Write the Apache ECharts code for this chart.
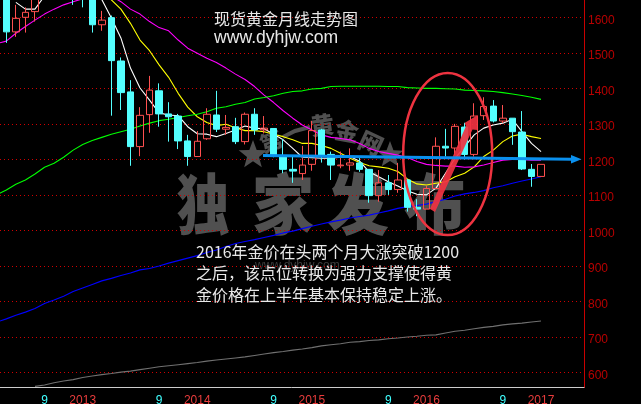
<!DOCTYPE html>
<html><head><meta charset="utf-8">
<style>html,body{margin:0;padding:0;background:#000}#c{width:641px;height:404px}</style>
<script src="https://cdn.jsdelivr.net/npm/echarts@6/dist/echarts.min.js"></script>
</head><body><div id="c"></div>
<script>
const months=['2012-04','2012-05','2012-06','2012-07','2012-08','2012-09','2012-10','2012-11','2012-12','2013-01','2013-02','2013-03','2013-04','2013-05','2013-06','2013-07','2013-08','2013-09','2013-10','2013-11','2013-12','2014-01','2014-02','2014-03','2014-04','2014-05','2014-06','2014-07','2014-08','2014-09','2014-10','2014-11','2014-12','2015-01','2015-02','2015-03','2015-04','2015-05','2015-06','2015-07','2015-08','2015-09','2015-10','2015-11','2015-12','2016-01','2016-02','2016-03','2016-04','2016-05','2016-06','2016-07','2016-08','2016-09','2016-10','2016-11','2016-12','2017-01','2017-02','2017-03','2017-04','2017-05'];
const openP=[1668,1664,1559,1600,1616,1690,1776,1720,1712,1675,1664,1579,1599,1477,1390,1236,1326,1393,1328,1322,1252,1208,1258,1325,1285,1292,1250,1327,1283,1287,1210,1172,1160,1186,1283,1214,1182,1184,1190,1172,1098,1134,1115,1142,1065,1060,1118,1237,1232,1291,1214,1323,1350,1308,1316,1277,1172,1152];
const closeP=[1664,1559,1597,1614,1690,1776,1720,1712,1675,1663,1579,1592,1478,1388,1236,1324,1395,1328,1320,1252,1208,1251,1327,1285,1290,1250,1327,1283,1288,1208,1172,1167,1184,1281,1212,1184,1184,1190,1172,1098,1134,1115,1142,1065,1060,1118,1237,1232,1293,1214,1322,1349,1308,1316,1278,1173,1152,1186];
const lowP=[1640,1528,1545,1557,1588,1660,1700,1672,1635,1628,1557,1562,1323,1339,1182,1209,1275,1292,1250,1229,1182,1207,1255,1277,1269,1243,1242,1269,1273,1206,1161,1134,1142,1168,1191,1142,1175,1168,1165,1078,1081,1100,1106,1053,1040,1060,1118,1208,1212,1200,1208,1311,1304,1302,1241,1170,1123,1152];
const highP=[1690,1666,1635,1628,1693,1790,1795,1755,1725,1695,1680,1618,1605,1487,1423,1347,1435,1414,1361,1328,1269,1280,1344,1393,1325,1317,1332,1344,1322,1288,1257,1208,1238,1308,1286,1222,1222,1231,1207,1172,1170,1156,1190,1145,1088,1125,1262,1286,1300,1303,1358,1375,1367,1353,1316,1336,1187,1186];
const ma5=[null,null,1642,1623,1623,1660,1690,1710,1700,1680,1665,1650,1598,1542,1457,1401,1367,1331,1325,1323,1292,1272,1271,1264,1273,1283,1294,1288,1286,1271,1255,1231,1206,1205,1203,1203,1206,1208,1195,1165,1151,1137,1125,1112,1102,1100,1119,1161,1203,1236,1269,1288,1297,1302,1313,1278,1245,1222];
const ma10=[null,null,null,null,null,null,null,null,null,null,1720,1670,1649,1623,1583,1536,1506,1466,1431,1386,1347,1320,1304,1295,1299,1289,1281,1281,1278,1271,1264,1255,1245,1245,1239,1231,1217,1203,1191,1182,1179,1175,1166,1145,1131,1128,1133,1137,1151,1161,1179,1208,1226,1250,1266,1271,1264,1259];
const ma20=[1526,1533,1555,1574,1592,1609,1623,1635,1644,1652,1665,1670,1660,1644,1623,1609,1588,1571,1562,1536,1513,1499,1485,1473,1457,1440,1425,1405,1381,1360,1337,1316,1297,1283,1269,1262,1259,1255,1245,1231,1222,1217,1212,1205,1194,1186,1183,1181,1181,1178,1179,1184,1191,1198,1200,1200,1198,1198];
const ma60=[1100,1114,1130,1142,1159,1178,1189,1206,1226,1242,1253,1262,1271,1278,1285,1294,1302,1309,1313,1318,1323,1327,1334,1344,1348,1355,1360,1370,1374,1379,1386,1391,1393,1398,1400,1405,1406,1406,1406,1406,1406,1405,1405,1402,1401,1400,1400,1399,1398,1395,1394,1393,1391,1388,1384,1380,1375,1369];
const ma120=[742,751,761,770,780,794,804,815,828,838,848,858,865,873,880,889,893,900,908,915,922,929,938,945,955,963,969,974,980,986,993,998,1005,1012,1018,1024,1029,1035,1039,1043,1049,1055,1062,1067,1070,1074,1081,1088,1097,1103,1107,1112,1120,1126,1133,1139,1145,1151];
const ma250=[null,null,null,null,561,565,571,576,580,586,590,594,597,601,604,608,612,616,619,622,625,628,632,635,638,641,644,648,652,656,659,663,666,670,675,678,681,685,687,690,692,695,697,700,702,705,706,711,716,719,723,727,730,734,737,739,742,745];
const priceTicks=[600,700,800,900,1000,1100,1200,1300,1400,1500,1600];
const candle=months.map((m,i)=>i<openP.length?[openP[i],closeP[i],lowP[i],highP[i]]:['-','-','-','-']);
const lineFont='"Liberation Sans",Arial,sans-serif', cjk='"Noto Sans CJK SC",sans-serif';
const isTick=s=>s.endsWith('-09')||s.endsWith('-01');
function ln(name,data,color){return {name,type:'line',data,symbol:'none',lineStyle:{color,width:1.1},itemStyle:{color},silent:true,z:3,connectNulls:false};}
function wm(t,x,y,size,rot,sx,sy){return {type:'text',silent:true,z:-1,x,y,scaleX:sx||1,scaleY:sy||1,rotation:(rot||0)*Math.PI/180,style:{text:t,fill:'#505050',font:'900 '+size+'px '+cjk,align:'center',verticalAlign:'middle'}};}
function tx(t,x,y,font){return {type:'text',silent:true,z:100,x,y,style:{text:t,fill:'#e8e8e8',font,align:'left',verticalAlign:'middle'}};}
function star(cx,cy,r){const p=[];for(let i=0;i<10;i++){const a=-Math.PI/2+i*Math.PI/5,q=i%2?r*0.42:r;p.push([cx+q*Math.cos(a),cy+q*Math.sin(a)]);}
 return {type:'polygon',silent:true,z:-1,shape:{points:p},style:{fill:'#505050'}};}
const chart=echarts.init(document.getElementById('c'),null,{renderer:'canvas'});
chart.setOption({
 animation:false,backgroundColor:'#000',
 grid:{left:-8,right:57,top:0,bottom:16.5,containLabel:false,outerBoundsMode:'none'},
 xAxis:{type:'category',data:months,boundaryGap:true,
  axisLine:{lineStyle:{color:'#cccccc',width:1}},
  axisTick:{alignWithLabel:true,interval:(i,v)=>isTick(v),length:5,lineStyle:{color:'#cc2222'}},
  axisLabel:{interval:(i,v)=>isTick(v),margin:7,fontFamily:lineFont,fontSize:12,
   formatter:v=>v.endsWith('-09')?'9':v.slice(0,4),
   color:v=>String(v).endsWith('9')?'#40ffff':'#e83c3c'},
  splitLine:{show:false}},
 yAxis:{type:'value',position:'right',min:557.8,max:1648.7,scale:true,
  axisLine:{show:true,lineStyle:{color:'#c80000',width:1}},
  axisTick:{show:false,customValues:priceTicks},
  axisLabel:{customValues:priceTicks,formatter:v=>String(v),color:'#b80000',fontFamily:lineFont,fontSize:12,margin:4,verticalAlign:'top',lineHeight:6},
  splitLine:{show:true,lineStyle:{color:'#d00000',width:1,type:[1,3]}}},
 series:[
  {type:'candlestick',data:candle,barWidth:7,silent:true,z:4,
   itemStyle:{color:'rgba(0,0,0,0)',color0:'#54ffff',borderColor:'#ff5050',borderColor0:'#54ffff',borderWidth:1}},
  ln('MA5',ma5,'#ffffff'),ln('MA10',ma10,'#ffff00'),ln('MA20',ma20,'#ff00ff'),
  ln('MA60',ma60,'#00ff00'),ln('MA120',ma120,'#0000ff'),ln('MA250',ma250,'#707070')
 ],
 graphic:{elements:[
  wm('独',203,204,62,0,0.85,1.06),wm('家',283,204,62,0,1,1.06),wm('发',358,204,62,0,1,1.06),wm('布',435,204,62,0,1,1.06),
  wm('第',271,142,22,20),wm('黄',322,125,24,8),wm('金',347,131,24,-10),wm('网',371,143,24,-25),
  star(253,155,15),star(390,155,14),
  {type:'polyline',silent:true,z:-1,shape:{points:[[283,137],[295,131],[310,127]]},style:{stroke:'#505050',lineWidth:4,fill:'none'}},
  {type:'text',silent:true,z:-1,x:255,y:266,style:{text:'www.dyhjw.com',fill:'#3c3c3c',font:'12px '+lineFont,align:'left',verticalAlign:'middle'}},
  {type:'ellipse',silent:true,z:100,shape:{cx:447.7,cy:154,rx:44.5,ry:81},style:{fill:'none',stroke:'#ee3340',lineWidth:2.5}},
  {type:'polygon',silent:true,z:100,shape:{points:[[430,209],[466,126],[464.5,123],[477.7,115],[477.5,130],[472.5,129.5],[435,212]]},style:{fill:'rgba(240,50,65,0.92)'}},
  {type:'line',silent:true,z:100,shape:{x1:263,y1:155.6,x2:572,y2:159.3},style:{stroke:'#0a90ee',lineWidth:3}},
  {type:'polygon',silent:true,z:100,shape:{points:[[571,155],[581.5,159.3],[571,163.5]]},style:{fill:'#0a90ee'}},
  tx('现货黄金月线走势图',214,18.5,'16px '+cjk),
  tx('www.dyhjw.com',214,38,'17.6px '+lineFont),
  tx('2016年金价在头两个月大涨突破1200',196,251.5,'16px '+cjk),
  tx('之后，该点位转换为强力支撑使得黄',196,273,'16px '+cjk),
  tx('金价格在上半年基本保持稳定上涨。',196,294.5,'16px '+cjk)
 ]}
});
</script></body></html>
